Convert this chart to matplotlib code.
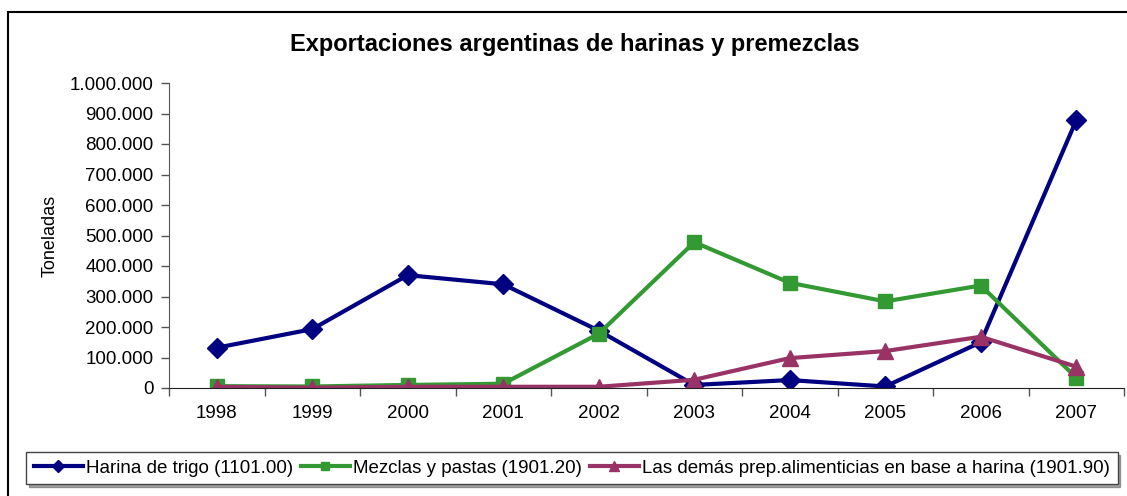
import matplotlib.pyplot as plt
import matplotlib.ticker as mticker
from matplotlib.patches import Rectangle
import numpy as np

plt.rcParams['font.family'] = ['Liberation Sans', 'DejaVu Sans']

years = ['1998', '1999', '2000', '2001', '2002', '2003', '2004', '2005', '2006', '2007']
harina = [132000, 193000, 370000, 340000, 188000, 10000, 26000, 5000, 150000, 878000]
mezclas = [6000, 5000, 10000, 14000, 178000, 478000, 345000, 284000, 336000, 34000]
demas = [4000, 1000, 4000, 4000, 4000, 27000, 98000, 121000, 168000, 70000]

names = ['Harina de trigo (1101.00)', 'Mezclas y pastas (1901.20)',
         'Las demás prep.alimenticias en base a harina (1901.90)']

W, H = 1127, 496
fig = plt.figure(figsize=(W / 100, H / 100), dpi=100)
ax = fig.add_axes([169 / W, 1 - 388 / H, (1124 - 169) / W, (388 - 83) / H])

x = np.arange(len(years))
l1, = ax.plot(x, harina, color='#000080', lw=3, marker='D', ms=10, label=names[0])
l2, = ax.plot(x, mezclas, color='#339933', lw=3, marker='s', ms=10, label=names[1])
l3, = ax.plot(x, demas, color='#993366', lw=3, marker='^', ms=11, label=names[2])

ax.set_xlim(-0.5, len(years) - 0.5)
ax.set_ylim(0, 1000000)
ax.yaxis.set_major_locator(mticker.MultipleLocator(100000))
ax.yaxis.set_major_formatter(mticker.FuncFormatter(lambda v, p: f'{int(v):,}'.replace(',', '.')))
ax.set_xticks(x)
ax.set_xticklabels(years)
ax.set_xticks(np.arange(-0.5, len(years)), minor=True)
ax.tick_params(axis='x', which='major', length=0, pad=12, labelsize=13.5)
ax.tick_params(axis='x', which='minor', length=6, width=1, color='#555555')
ax.tick_params(axis='y', length=6, width=1, color='#555555', labelsize=13.5, pad=5)
for s in ['top', 'right']:
    ax.spines[s].set_visible(False)
ax.spines['left'].set_color('#555555')
ax.spines['bottom'].set_color('#222222')
ax.set_ylabel('Toneladas', fontsize=13, labelpad=8)

fig.text(575 / W, 1 - 45 / H, 'Exportaciones argentinas de harinas y premezclas',
         ha='center', va='center', fontsize=17, fontweight='bold')

# outer chart frame
fig.patches.append(Rectangle((8 / W, -0.1), 1.2, 1 - 12 / H + 0.1, transform=fig.transFigure,
                             fill=False, ec='black', lw=1.5))

leg = fig.legend(handles=[l1, l2, l3], loc='center', bbox_to_anchor=(572 / W, 1 - 468 / H),
                 ncol=3, frameon=True, fancybox=False, shadow=True, edgecolor='#444444',
                 fontsize=13.5, handlelength=2.6, handletextpad=0.2, columnspacing=0.4,
                 borderpad=0.4, markerscale=0.6)

fig.savefig('out.png', dpi=100)
